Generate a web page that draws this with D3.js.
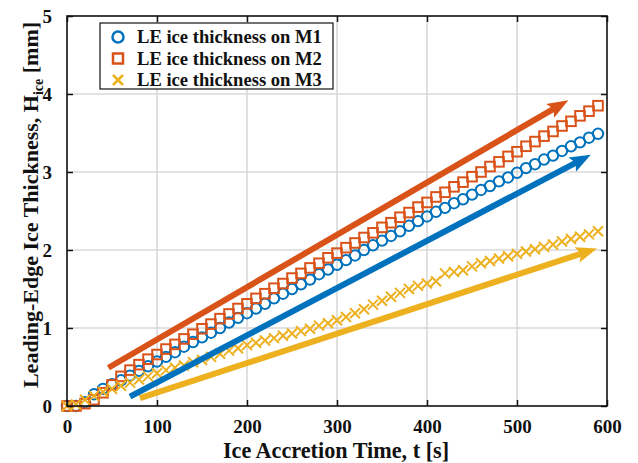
<!DOCTYPE html>
<html>
<head>
<meta charset="utf-8">
<script src="https://cdn.jsdelivr.net/npm/d3@7"></script>
<style>
  body { margin: 0; background: #fff; }
  text { font-family: "Liberation Serif", "Times New Roman", serif; font-weight: bold; fill: #111; }
</style>
</head>
<body>
<div id="chart"></div>
<script>
// Time samples [s]
const times = d3.range(0, 600, 10);

// Leading-edge ice thickness [mm]
const iceM1 = [0, 0, 0.05, 0.15, 0.22, 0.28, 0.33, 0.39, 0.45, 0.51,
    0.57, 0.63, 0.69, 0.76, 0.82, 0.88, 0.94, 1.00, 1.07, 1.13,
    1.19, 1.25, 1.31, 1.38, 1.44, 1.50, 1.56, 1.62, 1.69, 1.75,
    1.81, 1.87, 1.93, 2.00, 2.06, 2.12, 2.18, 2.24, 2.31, 2.37,
    2.43, 2.49, 2.54, 2.60, 2.65, 2.71, 2.77, 2.82, 2.88, 2.93,
    2.99, 3.05, 3.10, 3.16, 3.21, 3.27, 3.33, 3.38, 3.44, 3.49];
const iceM2 = [0, 0, 0.03, 0.08, 0.17, 0.27, 0.38, 0.46, 0.53, 0.60,
    0.66, 0.73, 0.79, 0.86, 0.92, 0.99, 1.05, 1.12, 1.18, 1.25,
    1.31, 1.38, 1.44, 1.51, 1.57, 1.64, 1.70, 1.77, 1.83, 1.90,
    1.96, 2.03, 2.09, 2.16, 2.22, 2.29, 2.35, 2.42, 2.48, 2.55,
    2.61, 2.68, 2.74, 2.81, 2.87, 2.94, 3.00, 3.07, 3.13, 3.20,
    3.26, 3.33, 3.39, 3.46, 3.52, 3.59, 3.65, 3.72, 3.78, 3.85];
const iceM3 = [0, 0.02, 0.08, 0.13, 0.18, 0.22, 0.26, 0.30, 0.34, 0.38,
    0.42, 0.46, 0.49, 0.52, 0.56, 0.59, 0.63, 0.67, 0.71, 0.74,
    0.78, 0.81, 0.84, 0.87, 0.90, 0.93, 0.96, 0.99, 1.03, 1.06,
    1.10, 1.14, 1.19, 1.24, 1.30, 1.35, 1.40, 1.45, 1.50, 1.54,
    1.57, 1.60, 1.70, 1.72, 1.74, 1.79, 1.83, 1.86, 1.89, 1.92,
    1.95, 1.98, 2.01, 2.04, 2.07, 2.11, 2.14, 2.17, 2.20, 2.24];

const seriesNames = ["LE ice thickness on M1", "LE ice thickness on M2", "LE ice thickness on M3"];
const seriesColors = ["#0072BD", "#D95319", "#EDB120"];
const seriesMarkers = ["circle", "square", "cross"];

// Trend arrows: [tStart, hStart, tEnd, hEnd]
const arrowM1 = [70, 0.12, 582, 3.22];
const arrowM2 = [46, 0.49, 557, 3.92];
const arrowM3 = [81, 0.10, 589, 2.02];

const xTicks = [0, 100, 200, 300, 400, 500, 600];
const yTicks = [0, 1, 2, 3, 4, 5];

const margin = { top: 16, right: 31, bottom: 57, left: 67 };
const W = 638, H = 463;
const width = W - margin.left - margin.right;
const height = H - margin.top - margin.bottom;

const svg = d3.select("#chart").append("svg")
    .attr("width", W)
    .attr("height", H);

const g = svg.append("g")
    .attr("transform", `translate(${margin.left},${margin.top})`);

const x = d3.scaleLinear().domain([0, 600]).range([0, width]);
const y = d3.scaleLinear().domain([0, 5]).range([height, 0]);

// grid
g.selectAll(".vgrid").data(xTicks.slice(1, -1)).enter().append("line")
    .attr("x1", d => x(d)).attr("x2", d => x(d))
    .attr("y1", 0).attr("y2", height)
    .attr("stroke", "#d9d9d9").attr("stroke-width", 1.6);
g.selectAll(".hgrid").data(yTicks.slice(1, -1)).enter().append("line")
    .attr("x1", 0).attr("x2", width)
    .attr("y1", d => y(d)).attr("y2", d => y(d))
    .attr("stroke", "#d9d9d9").attr("stroke-width", 1.6);

// data markers
const allSeries = [iceM1, iceM2, iceM3];
allSeries.forEach((vals, i) => {
    const pts = times.map((t, j) => [x(t), y(vals[j])]);
    const grp = g.append("g")
        .attr("stroke", seriesColors[i])
        .attr("stroke-width", 2)
        .attr("fill", "none");
    if (seriesMarkers[i] === "circle") {
        grp.selectAll("circle").data(pts).enter().append("circle")
            .attr("cx", d => d[0]).attr("cy", d => d[1]).attr("r", 5.2);
    } else if (seriesMarkers[i] === "square") {
        grp.selectAll("rect").data(pts).enter().append("rect")
            .attr("x", d => d[0] - 4.8).attr("y", d => d[1] - 4.8)
            .attr("width", 9.6).attr("height", 9.6);
    } else {
        grp.selectAll("path").data(pts).enter().append("path")
            .attr("d", d => `M${d[0] - 5},${d[1] - 5}L${d[0] + 5},${d[1] + 5}M${d[0] - 5},${d[1] + 5}L${d[0] + 5},${d[1] - 5}`);
    }
});

// arrows
function drawArrow(a, color) {
    const x1 = x(a[0]), y1 = y(a[1]), x2 = x(a[2]), y2 = y(a[3]);
    const ang = Math.atan2(y2 - y1, x2 - x1);
    const headLen = 17, headW = 8;
    const bx = x2 - headLen * Math.cos(ang), by = y2 - headLen * Math.sin(ang);
    g.append("line")
        .attr("x1", x1).attr("y1", y1)
        .attr("x2", bx + 2 * Math.cos(ang)).attr("y2", by + 2 * Math.sin(ang))
        .attr("stroke", color).attr("stroke-width", 6);
    const px = -Math.sin(ang), py = Math.cos(ang);
    const notch = 4;
    g.append("path")
        .attr("d", `M${x2},${y2}L${bx + px * headW - notch * Math.cos(ang)},${by + py * headW - notch * Math.sin(ang)}` +
            `L${bx},${by}L${bx - px * headW - notch * Math.cos(ang)},${by - py * headW - notch * Math.sin(ang)}Z`)
        .attr("fill", color);
}
drawArrow(arrowM2, seriesColors[1]);
drawArrow(arrowM1, seriesColors[0]);
drawArrow(arrowM3, seriesColors[2]);

// axes
const xAxis = g.append("g").attr("transform", `translate(0,${height})`)
    .call(d3.axisBottom(x).tickValues(xTicks).tickSize(-6).tickPadding(14).tickSizeOuter(0));
const yAxis = g.append("g")
    .call(d3.axisLeft(y).tickValues(yTicks).tickFormat(d3.format("d")).tickSize(-6).tickPadding(15).tickSizeOuter(0));
g.append("g").attr("transform", `translate(0,0)`)
    .call(d3.axisTop(x).tickValues(xTicks).tickSize(-6).tickFormat("").tickSizeOuter(0));
g.append("g").attr("transform", `translate(${width},0)`)
    .call(d3.axisRight(y).tickValues(yTicks).tickSize(-6).tickFormat("").tickSizeOuter(0));
g.selectAll(".domain").remove();
g.selectAll(".tick line").attr("stroke", "#111").attr("stroke-width", 1.5);
[xAxis, yAxis].forEach(a => a.selectAll("text")
    .attr("font-size", 19)
    .attr("font-family", "Liberation Serif")
    .attr("font-weight", "bold")
    .attr("fill", "#111"));

g.append("rect")
    .attr("width", width).attr("height", height)
    .attr("fill", "none").attr("stroke", "#111").attr("stroke-width", 1.6);

// axis titles
svg.append("text")
    .attr("x", margin.left + width / 2 - 1)
    .attr("y", 458)
    .attr("text-anchor", "middle")
    .attr("font-size", 22.2)
    .text("Ice Accretion Time, t [s]");

const yt = svg.append("text")
    .attr("transform", `translate(38,${margin.top + height / 2 - 6}) rotate(-90)`)
    .attr("text-anchor", "middle")
    .attr("font-size", 22);
yt.append("tspan").text("Leading-Edge Ice Thickness, H");
yt.append("tspan").attr("font-size", 14).attr("dy", 5).text("ice");
yt.append("tspan").attr("dy", -5).text(" [mm]");

// legend
const legend = svg.append("g").attr("transform", "translate(100,23)");
legend.append("rect")
    .attr("width", 233).attr("height", 66)
    .attr("fill", "#fff").attr("stroke", "#111").attr("stroke-width", 1.2);
seriesNames.forEach((name, i) => {
    const cy = 14 + i * 21.5;
    const mk = legend.append("g")
        .attr("stroke", seriesColors[i]).attr("stroke-width", 2.5).attr("fill", "none");
    if (seriesMarkers[i] === "circle") {
        mk.append("circle").attr("cx", 18).attr("cy", cy).attr("r", 5.5);
    } else if (seriesMarkers[i] === "square") {
        mk.append("rect").attr("x", 13).attr("y", cy - 5).attr("width", 10).attr("height", 10);
    } else {
        mk.append("path").attr("d", `M13,${cy - 5}L23,${cy + 5}M13,${cy + 5}L23,${cy - 5}`);
    }
    legend.append("text")
        .attr("x", 37).attr("y", cy + 6)
        .attr("font-size", 18.6)
        .text(name);
});
</script>
</body>
</html>
